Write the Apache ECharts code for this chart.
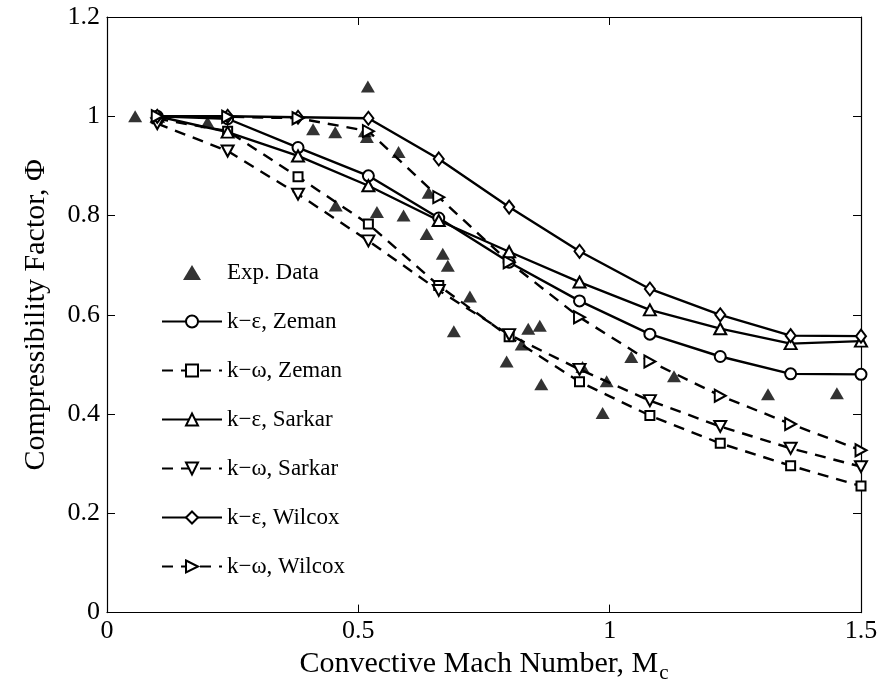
<!DOCTYPE html>
<html>
<head>
<meta charset="utf-8">
<script src="https://cdn.jsdelivr.net/npm/echarts@6/dist/echarts.min.js"></script>
<style>
  html, body { margin: 0; padding: 0; background: #fff; }
  #chart { width: 885px; height: 689px; }
</style>
</head>
<body>
<div id="chart"></div>
<script>
// Convective Mach number where the models were evaluated
const machModel = [0.1, 0.24, 0.38, 0.52, 0.66, 0.8, 0.94, 1.08, 1.22, 1.36, 1.5];

// Compressibility factor predicted by each turbulence model / correction
const keZeman  = [1.0, 0.995, 0.937, 0.88, 0.795, 0.706, 0.628, 0.561, 0.516, 0.481, 0.48];
const kwZeman  = [0.995, 0.97, 0.878, 0.783, 0.659, 0.556, 0.465, 0.397, 0.341, 0.296, 0.255];
const keSarkar = [1.0, 0.968, 0.92, 0.86, 0.79, 0.727, 0.666, 0.61, 0.572, 0.542, 0.547];
const kwSarkar = [0.985, 0.93, 0.843, 0.749, 0.649, 0.56, 0.49, 0.427, 0.375, 0.331, 0.294];
const keWilcox = [1.0, 1.0, 0.998, 0.996, 0.914, 0.817, 0.728, 0.652, 0.6, 0.558, 0.557];
const kwWilcox = [1.0, 0.999, 0.996, 0.97, 0.837, 0.706, 0.595, 0.506, 0.437, 0.38, 0.327];

// Experimental measurements
const expMach = [0.056, 0.2, 0.41, 0.454, 0.513, 0.517, 0.519, 0.58, 0.64, 0.455, 0.537, 0.59, 0.636,
                 0.668, 0.678, 0.69, 0.722, 0.795, 0.825, 0.838, 0.861, 0.864, 0.946, 0.986, 0.994,
                 1.043, 1.128, 1.315, 1.452];
const expPhi  = [1.0, 0.988, 0.974, 0.968, 0.97, 0.958, 1.06, 0.928, 0.846, 0.82, 0.807, 0.80, 0.763,
                 0.723, 0.699, 0.567, 0.637, 0.506, 0.54, 0.572, 0.578, 0.46, 0.495, 0.402, 0.466,
                 0.515, 0.476, 0.44, 0.442];

// Axis ticks
const xTicks = [0, 0.5, 1, 1.5];
const yTicks = [0, 0.2, 0.4, 0.6, 0.8, 1, 1.2];

const FONT = '"Liberation Serif", "Times New Roman", serif';

const pairs = (xs, ys) => xs.map((x, i) => [x, ys[i]]);

// Marker shapes
const SYM = {
  circle: 'circle',
  square: 'rect',
  triUp: 'path://M5,0 L10,9 L0,9 Z',
  triDown: 'path://M0,0 L10,0 L5,9 Z',
  diamond: 'path://M5,0 L9,6 L5,12 L1,6 Z',
  triRight: 'path://M0,0 L9,5 L0,10 Z',
  filledTri: 'path://M6,0 L12,10 L0,10 Z'
};

function model(name, values, symbol, dashed, size) {
  return {
    name: name,
    type: 'line',
    data: pairs(machModel, values),
    symbol: symbol,
    symbolSize: size || 11,
    showSymbol: true,
    animation: false,
    lineStyle: { color: '#000', width: 2.4, type: dashed ? [11, 8] : 'solid' },
    itemStyle: { color: '#fff', borderColor: '#000', borderWidth: 2 },
    emphasis: { disabled: true },
    z: 3
  };
}

const axisCommon = {
  axisLine: { show: true, onZero: false, lineStyle: { color: '#000', width: 1.2 } },
  axisTick: { show: true, inside: true, length: 8, lineStyle: { color: '#000', width: 1 } },
  splitLine: { show: false }
};

const chart = echarts.init(document.getElementById('chart'), null, { renderer: 'canvas' });

chart.setOption({
  backgroundColor: '#fff',
  animation: false,
  grid: { left: 107, right: 24, top: 17, bottom: 74, containLabel: false },
  xAxis: [
    Object.assign({
      type: 'value', min: 0, max: 1.5, interval: 0.5, position: 'bottom',
      name: 'Convective Mach Number, M{sub|c}',
      nameLocation: 'middle', nameGap: 31,
      nameTextStyle: { fontFamily: FONT, fontSize: 30, color: '#000',
        rich: { sub: { fontFamily: FONT, fontSize: 21, verticalAlign: 'bottom', padding: [18, 0, 0, 1] } } },
      axisLabel: { fontFamily: FONT, fontSize: 26, color: '#000', margin: 6,
        formatter: v => xTicks.includes(v) ? String(v) : '' }
    }, axisCommon),
    Object.assign({
      type: 'value', min: 0, max: 1.5, interval: 0.5, position: 'top',
      axisLabel: { show: false }
    }, axisCommon)
  ],
  yAxis: [
    Object.assign({
      type: 'value', min: 0, max: 1.2, interval: 0.2, position: 'left',
      name: 'Compressibility Factor, Φ',
      nameLocation: 'middle', nameGap: 56,
      nameTextStyle: { fontFamily: FONT, fontSize: 30, color: '#000' },
      axisLabel: { fontFamily: FONT, fontSize: 26, color: '#000', margin: 7,
        formatter: v => { const t = yTicks.find(k => Math.abs(k - v) < 1e-9); return t === undefined ? '' : String(t); } }
    }, axisCommon),
    Object.assign({
      type: 'value', min: 0, max: 1.2, interval: 0.2, position: 'right',
      axisLabel: { show: false }
    }, axisCommon)
  ],
  legend: {
    orient: 'vertical',
    left: 161, top: 260,
    padding: 0,
    itemWidth: 60, itemHeight: 15, itemGap: 24,
    textStyle: { fontFamily: FONT, fontSize: 23, color: '#000', lineHeight: 25 },
    selectedMode: false,
    data: ['Exp. Data', 'k−ε, Zeman', 'k−ω, Zeman', 'k−ε, Sarkar', 'k−ω, Sarkar', 'k−ε, Wilcox', 'k−ω, Wilcox']
  },
  series: [
    {
      name: 'Exp. Data',
      type: 'scatter',
      data: pairs(expMach, expPhi),
      symbol: SYM.filledTri,
      symbolSize: [14, 12],
      itemStyle: { color: '#000' },
      emphasis: { disabled: true },
      animation: false,
      z: 2
    },
    model('k−ε, Zeman', keZeman, SYM.circle, false, 11),
    model('k−ω, Zeman', kwZeman, SYM.square, true, 9),
    model('k−ε, Sarkar', keSarkar, SYM.triUp, false, [12, 11]),
    model('k−ω, Sarkar', kwSarkar, SYM.triDown, true, [12, 11]),
    model('k−ε, Wilcox', keWilcox, SYM.diamond, false, [10, 13]),
    model('k−ω, Wilcox', kwWilcox, SYM.triRight, true, [11, 12])
  ]
});
</script>
</body>
</html>
